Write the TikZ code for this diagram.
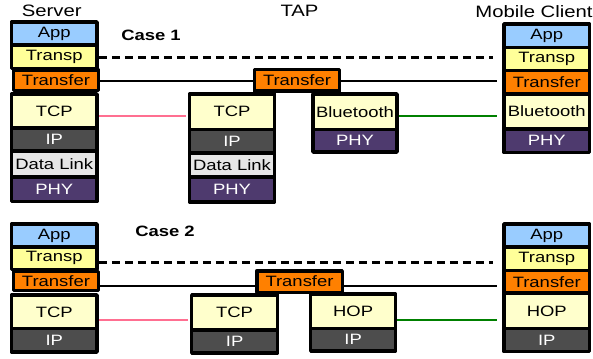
\documentclass[tikz,border=0pt]{standalone}
\usepackage{fontspec}
\setmainfont[FakeStretch=1.23]{Liberation Sans}
\usetikzlibrary{backgrounds}

\definecolor{appblue}{HTML}{99CCFF}
\definecolor{transpyellow}{HTML}{FFFF99}
\definecolor{transferorange}{HTML}{FF8000}
\definecolor{linkyellow}{HTML}{FFFFCC}
\definecolor{ipgray}{HTML}{4D4D4D}
\definecolor{dlgray}{HTML}{E6E6E6}
\definecolor{phypurple}{HTML}{4E3A6E}
\definecolor{tcppink}{HTML}{FF6F91}
\definecolor{btgreen}{HTML}{008000}

\begin{document}
\begin{tikzpicture}[x=1pt,y=-1pt,
  layer/.style={draw=black, line width=3.5pt, line join=round, inner sep=0pt,
    outer sep=1.75pt, font=\fontsize{15}{18}\selectfont},
  sz/.style 2 args={minimum width=#1pt, minimum height=#2pt},
  app/.style={layer, fill=appblue},
  transp/.style={layer, fill=transpyellow},
  transfer/.style={layer, fill=transferorange},
  linkl/.style={layer, fill=linkyellow},
  ip/.style={layer, fill=ipgray, text=white},
  dl/.style={layer, fill=dlgray},
  phy/.style={layer, fill=phypurple, text=white},
  head/.style={font=\fontsize{16.5}{20}\selectfont, inner sep=0pt},
  casehead/.style={font=\bfseries\fontsize{15}{18}\selectfont, inner sep=0pt},
  e2e/.style={draw=black, line width=2.5pt, dash pattern=on 8pt off 5pt},
  xfer/.style={draw=black, line width=2pt},
  tcpline/.style={draw=tcppink, line width=2pt},
  btline/.style={draw=btgreen, line width=2pt},
]
\useasboundingbox (0,0) rectangle (593,358);

% column headings
\node[head] (hserver) at (51.7,11) {Server};
\node[head] (htap) at (299.5,11) {TAP};
\node[head] (hclient) at (534,12) {Mobile Client};
\node[casehead] (case1) at (151,35.7) {Case 1};
\node[casehead] (case2) at (165,231.7) {Case 2};

% ---------------- Case 1 ----------------
% server stack
\node[app, sz={85.5}{23}] (s1app) at (54.25,33.5) {App};
\node[transp, sz={85.5}{23.5}] (s1transp) at (54.25,56.75) {Transp};
\node[transfer, sz={85}{20.5}] (s1transfer) at (56,80.25) {Transfer};
\node[linkl, sz={85.5}{34}] (s1tcp) at (54.25,111) {TCP};
\node[ip, sz={85.5}{23}] (s1ip) at (54.25,139.5) {IP};
\node[dl, sz={85.5}{26}] (s1dl) at (54.25,164) {Data Link};
\node[phy, sz={85.5}{24.5}] (s1phy) at (54.25,189.25) {PHY};

% TAP: transfer bridge over an IP side and a Bluetooth side
\node[linkl, sz={85}{35.5}] (t1tcp) at (232,111.75) {TCP};
\node[ip, sz={85}{23.5}] (t1ip) at (232,141.25) {IP};
\node[dl, sz={85}{24}] (t1dl) at (232,165) {Data Link};
\node[phy, sz={85}{25}] (t1phy) at (232,189.5) {PHY};
\node[linkl, sz={84}{35.5}] (t1bt) at (355,111.75) {Bluetooth};
\node[phy, sz={84}{22.5}] (t1btphy) at (355,140.75) {PHY};
\node[transfer, sz={85}{21.5}] (t1transfer) at (297,80.25) {Transfer};

% mobile client stack
\node[app, sz={85.5}{23.5}] (c1app) at (546.75,35.75) {App};
\node[transp, sz={85.5}{23}] (c1transp) at (546.75,59) {Transp};
\node[transfer, sz={85.5}{23.5}] (c1transfer) at (546.75,82.25) {Transfer};
\node[linkl, sz={85.5}{35}] (c1bt) at (546.75,111.5) {Bluetooth};
\node[phy, sz={85.5}{23.5}] (c1phy) at (546.75,140.75) {PHY};

% ---------------- Case 2 ----------------
% server stack
\node[app, sz={85.5}{23}] (s2app) at (54.25,235.5) {App};
\node[transp, sz={85.5}{22.3}] (s2transp) at (54.25,258.15) {Transp};
\node[transfer, sz={85}{18.9}] (s2transfer) at (56,281.05) {Transfer};
\node[linkl, sz={85.5}{33.7}] (s2tcp) at (54.25,311.85) {TCP};
\node[ip, sz={85.5}{23.3}] (s2ip) at (54.25,340.35) {IP};

% TAP: transfer bridge over a TCP/IP side and a HOP/IP side
\node[linkl, sz={85.75}{35}] (t2tcp) at (234.6,312.5) {TCP};
\node[ip, sz={85.75}{23.25}] (t2ip) at (234.6,341.6) {IP};
\node[linkl, sz={84.75}{34.3}] (t2hop) at (353.1,311.15) {HOP};
\node[ip, sz={84.75}{22.7}] (t2hopip) at (353.1,339.65) {IP};
\node[transfer, sz={85.5}{21.5}] (t2transfer) at (299.5,281.5) {Transfer};

% mobile client stack
\node[app, sz={85.5}{23.2}] (c2app) at (546.75,235.6) {App};
\node[transp, sz={85.5}{23.1}] (c2transp) at (546.75,258.75) {Transp};
\node[transfer, sz={85.5}{22.9}] (c2transfer) at (546.75,281.75) {Transfer};
\node[linkl, sz={85.5}{35.5}] (c2hop) at (546.75,310.95) {HOP};
\node[ip, sz={85.5}{23}] (c2ip) at (546.75,340.2) {IP};

% ---------------- peer connections ----------------
\begin{scope}[on background layer]
  % case 1
  \draw[e2e, shorten >=9pt] ([yshift=-0.55pt]s1transp.east) -- ([yshift=-0.55pt]s1transp.east -| c1transp.west);
  \draw[xfer] ([yshift=-0.45pt]s1transfer.east) -- ([yshift=-0.45pt]s1transfer.east -| t1transfer.west);
  \draw[xfer, shorten >=5pt] ([yshift=-0.45pt]t1transfer.east) -- ([yshift=-0.45pt]t1transfer.east -| c1transfer.west);
  \draw[tcpline, shorten >=2pt] ([yshift=-4.7pt]s1tcp.east) -- ([yshift=-4.7pt]s1tcp.east -| t1tcp.west);
  \draw[btline, shorten >=5pt] ([yshift=-4pt]t1bt.east) -- ([yshift=-4pt]t1bt.east -| c1bt.west);
  % case 2
  \draw[e2e, shorten >=9pt] ([yshift=-4.1pt]s2transp.east) -- ([yshift=-4.1pt]s2transp.east -| c2transp.west);
  \draw[xfer] ([yshift=-4.5pt]s2transfer.east) -- ([yshift=-4.5pt]s2transfer.east -| t2transfer.west);
  \draw[xfer, shorten >=5pt] ([yshift=-4pt]t2transfer.east) -- ([yshift=-4pt]t2transfer.east -| c2transfer.west);
  \draw[tcpline, shorten >=2pt] ([yshift=-8.2pt]s2tcp.east) -- ([yshift=-8.2pt]s2tcp.east -| t2tcp.west);
  \draw[btline, shorten >=5pt] ([yshift=-9.3pt]t2hop.east) -- ([yshift=-9.3pt]t2hop.east -| c2hop.west);
\end{scope}
\end{tikzpicture}
\end{document}
